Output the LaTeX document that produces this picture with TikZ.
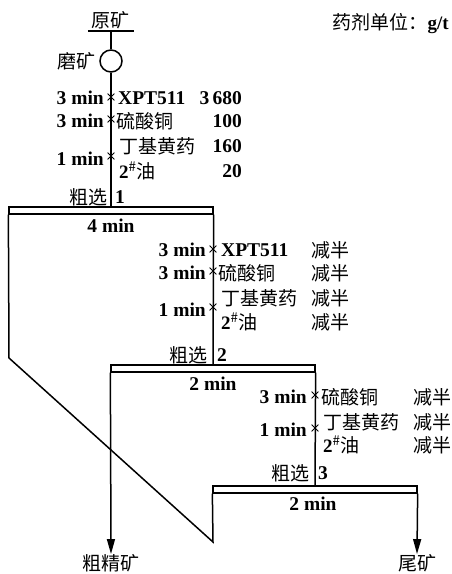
\documentclass[tikz,border=0pt]{standalone}
\usepackage{fontspec}
\setmainfont{Liberation Serif}
\IfFontExistsTF{FandolSong-Regular.otf}{\newfontfamily\cjk{FandolSong-Regular.otf}}{\newfontfamily\cjk{Noto Sans CJK SC}}
\usetikzlibrary{shapes.misc,arrows.meta}
\tikzset{
  lat/.style={font=\fontsize{19.5}{21}\selectfont\rmfamily\bfseries, inner sep=0pt},
  zh/.style={font=\fontsize{19}{21}\selectfont\cjk, inner sep=0pt},
  bar/.style={draw, line width=1.3pt, minimum width=204pt, minimum height=7pt, inner sep=0pt, fill=white},
  flow/.style={line width=1.5pt},
  xmark/.style={cross out, draw, line width=0.8pt, minimum size=6pt, inner sep=0pt},
  arr/.style={-{Triangle[length=15pt,width=8pt]}},
}
\newcommand{\lf}{\rmfamily\bfseries}
\begin{document}
\begin{tikzpicture}[x=1pt,y=-1pt]
\fill[white] (0,0) rectangle (452,574);
\useasboundingbox (0,0) rectangle (452,574);

% legend
\node[zh, anchor=east] (unit) at (449,24) {药剂单位：{\lf g/t}};

% feed and mill
\node[zh, anchor=south, minimum width=46pt, minimum height=22pt] (raw) at (111,31) {原矿};
\draw[line width=1.3pt] (raw.south west) -- (raw.south east);
\node[draw, circle, line width=1.5pt, minimum size=22pt, inner sep=0pt] (mill) at (111,61) {};
\node[zh, anchor=east] (millt) at (96,61) {磨矿};

% cells
\node[bar] (c1) at (111,210.5) {};
\node[bar] (c2) at (213,368.5) {};
\node[bar] (c3) at (315,489.5) {};
\node[lat] (t1) at (111,226) {4 min};
\node[lat] (t2) at (213,384) {2 min};
\node[lat] (t3) at (313,504) {2 min};

% products
\node[zh] (conc) at (111,563) {粗精矿};
\node[zh] (tail) at (417,563) {尾矿};

\coordinate (d1) at (9,358);
\coordinate (d2) at (213,542);

% connectors
\draw[flow] (raw.south) -- (mill.north);
\draw[flow] (mill.south) -- (c1.north);
\draw[flow] (c1.south east) -- (c2.north);
\draw[flow] (c2.south east) -- (c3.north);
\draw[flow,arr] (c2.south west) -- (conc.north);
\draw[flow,arr] (c3.south east) -- (tail.north);
\draw[flow] (c1.south west) -- (d1) -- (d2) -- (c3.south west);

% ---- rougher 1 reagents (line x=111)
\node[xmark] (x11) at (111,97) {};
\node[xmark] (x12) at (111,119) {};
\node[xmark] (x13) at (111,156) {};
\node[lat, anchor=east] (m11) at (104,98) {3 min};
\node[lat, anchor=east] (m12) at (104,121) {3 min};
\node[lat, anchor=east] (m13) at (104,159) {1 min};
\node[lat, anchor=west] (r11) at (118,98) {XPT511};
\node[zh, anchor=west] (r12) at (116,121) {硫酸铜};
\node[zh, anchor=west] (r13) at (119,146) {丁基黄药};
\node[zh, anchor=west] (r14) at (119,171) {{\lf 2}\textsuperscript{\#}油};
\node[lat, anchor=east] (q11) at (242,98) {3\,680};
\node[lat, anchor=east] (q12) at (242,121) {100};
\node[lat, anchor=east] (q13) at (242,146) {160};
\node[lat, anchor=east] (q14) at (242,171) {20};
\node[zh, anchor=east] (s1) at (108,197) {粗选};
\node[lat, anchor=west] (n1) at (115,197) {1};

% ---- rougher 2 reagents (line x=213)
\node[xmark] (x21) at (213,249) {};
\node[xmark] (x22) at (213,271) {};
\node[xmark] (x23) at (213,307) {};
\node[lat, anchor=east] (m21) at (206,250) {3 min};
\node[lat, anchor=east] (m22) at (206,273) {3 min};
\node[lat, anchor=east] (m23) at (206,310) {1 min};
\node[lat, anchor=west] (r21) at (221,250) {XPT511};
\node[zh, anchor=west] (r22) at (218,273) {硫酸铜};
\node[zh, anchor=west] (r23) at (221,298) {丁基黄药};
\node[zh, anchor=west] (r24) at (221,322) {{\lf 2}\textsuperscript{\#}油};
\node[zh, anchor=west] (h21) at (311,250) {减半};
\node[zh, anchor=west] (h22) at (311,273) {减半};
\node[zh, anchor=west] (h23) at (311,298) {减半};
\node[zh, anchor=west] (h24) at (311,322) {减半};
\node[zh, anchor=east] (s2) at (208,355) {粗选};
\node[lat, anchor=west] (n2) at (217,355) {2};

% ---- rougher 3 reagents (line x=315)
\node[xmark] (x31) at (315,395) {};
\node[xmark] (x32) at (315,428) {};
\node[lat, anchor=east] (m31) at (307,397) {3 min};
\node[lat, anchor=east] (m32) at (307,430) {1 min};
\node[zh, anchor=west] (r31) at (321,397) {硫酸铜};
\node[zh, anchor=west] (r32) at (323,422) {丁基黄药};
\node[zh, anchor=west] (r33) at (323,445) {{\lf 2}\textsuperscript{\#}油};
\node[zh, anchor=west] (h31) at (413,397) {减半};
\node[zh, anchor=west] (h32) at (413,422) {减半};
\node[zh, anchor=west] (h33) at (413,445) {减半};
\node[zh, anchor=east] (s3) at (310,473) {粗选};
\node[lat, anchor=west] (n3) at (318,473) {3};
\end{tikzpicture}
\end{document}
